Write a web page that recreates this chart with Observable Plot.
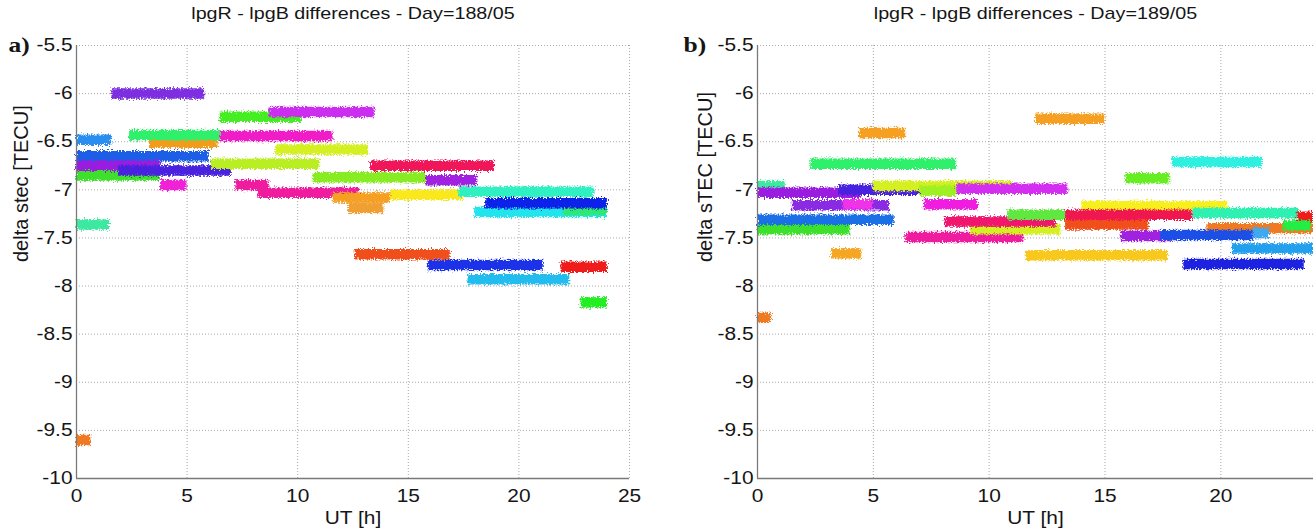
<!DOCTYPE html>
<html><head><meta charset="utf-8">
<script src="https://cdn.jsdelivr.net/npm/d3@7"></script>
<script src="https://cdn.jsdelivr.net/npm/@observablehq/plot@0.6"></script>
<style>
html,body{margin:0;padding:0;background:#fff;}
#wrap{position:relative;width:1313px;height:530px;overflow:hidden;background:#fff;}
#wrap svg{position:absolute;top:0;overflow:visible;}
</style></head><body><div id="wrap"></div>
<script>
// ---------- shared axis ticks ----------
const yTicks = [-10, -9.5, -9, -8.5, -8, -7.5, -7, -6.5, -6, -5.5];
const xTicksA = [0, 5, 10, 15, 20, 25];
const xTicksB = [0, 5, 10, 15, 20];

// ---------- panel a: Day 188/05 (one entry per satellite arc) ----------
const titleA = "lpgR - lpgB differences - Day=188/05";
const arcSatA   = ["a01","a02","a03","a04","a05","a06","a07","a08","a09","a10","a11","a12","a13","a14","a15","a16","a17","a18","a18","a20","a21","a22","a23","a24","a25","a26","a27","a28","a29","a30","a31","a32","a33"];
const arcStartA = [0, 0, 0, 0, 0, 0, 1.9, 3.8, 1.6, 3.3, 2.4, 6.5, 8.7, 6.5, 9.0, 6.1, 10.7, 7.2, 8.2, 13.3, 15.8, 11.6, 12.3, 14.2, 17.3, 18.0, 22.0, 18.5, 12.6, 15.9, 17.7, 21.9, 22.8];
const arcEndA   = [1.5, 0.65, 1.6, 3.8, 6.0, 3.8, 7.0, 5.0, 5.8, 6.4, 6.5, 10.2, 13.5, 11.6, 13.2, 11.0, 15.8, 8.7, 12.8, 18.9, 18.1, 14.2, 13.9, 17.5, 23.4, 24.0, 24.0, 24.0, 16.9, 21.1, 22.3, 24.0, 24.0];
const arcLevelA = [-7.36, -9.60, -6.48, -6.85, -6.65, -6.75, -6.80, -6.95, -6.00, -6.51, -6.43, -6.24, -6.19, -6.44, -6.58, -6.73, -6.87, -6.95, -7.03, -6.75, -6.90, -7.08, -7.19, -7.05, -7.02, -7.23, -7.21, -7.14, -7.67, -7.78, -7.93, -7.80, -8.17];
const satsA    = ["a01","a02","a03","a04","a05","a06","a07","a08","a09","a10","a11","a12","a13","a14","a15","a16","a17","a18","a20","a21","a22","a23","a24","a25","a26","a27","a28","a29","a30","a31","a32","a33"];
const paletteA = ["#3ee8a0","#f07a22","#2a8ef0","#3ee02a","#1f5fe6","#9a1fe0","#4a22e0","#f020d8","#7b2fe0","#f39c1e","#2ef06a","#44ee22","#cc2ef0","#f01ec8","#d4f020","#b8ee22","#88ec20","#f01ea0","#f0145a","#a020e0","#f5a020","#f0a030","#f8e81c","#2ef0c0","#22e4ec","#2ee870","#1020e8","#f0501c","#1a30e8","#22bcee","#f01c1c","#22ee22"];

// ---------- panel b: Day 189/05 ----------
const titleB = "lpgR - lpgB differences - Day=189/05";
const arcSatB   = ["b01","b02","b03","b04","b05","b06","b07","b08","b09","b10","b11","b12","b13","b14","b15","b16","b17","b18","b19","b20","b21","b22","b23","b24","b25","b26","b27","b28","b29","b30","b31","b32","b33","b34","b35"];
const arcStartB = [0, 3.2, 0, 0, 1.5, 3.7, 0, 0, 3.5, 5.0, 7.0, 8.6, 2.3, 4.4, 12.0, 7.2, 6.4, 9.2, 8.1, 10.8, 11.6, 14.0, 13.3, 13.3, 15.9, 17.9, 18.8, 19.4, 15.7, 17.4, 21.4, 20.5, 18.4, 23.3, 22.7];
const arcEndB   = [0.6, 4.5, 4.0, 5.9, 5.7, 5.0, 1.2, 4.5, 7.0, 11.0, 8.6, 13.4, 8.6, 6.4, 15.0, 9.5, 11.5, 13.1, 12.9, 13.3, 17.7, 20.3, 16.9, 18.8, 17.8, 21.8, 23.4, 24.0, 17.9, 21.4, 22.1, 24.0, 23.6, 24.0, 23.9];
const arcLevelB = [-8.33, -7.66, -7.41, -7.31, -7.16, -7.15, -6.96, -7.03, -7.00, -6.96, -7.01, -6.99, -6.73, -6.41, -6.26, -7.15, -7.49, -7.41, -7.33, -7.26, -7.68, -7.17, -7.36, -7.26, -6.88, -6.71, -7.24, -7.40, -7.48, -7.47, -7.45, -7.61, -7.77, -7.28, -7.37];
const satsB    = arcSatB;
const paletteB = ["#f07a22","#f5a623","#3ee02a","#1f6fe6","#8a2be2","#f030e8","#3ee8a0","#9a1fe0","#4a22e0","#d4f020","#9ef020","#d42ef0","#2ef06a","#f5a020","#f5a020","#f01ee0","#f01ea0","#d4f020","#f0146e","#5ee840","#f8c81c","#f8f01c","#f0501c","#f01450","#66ee22","#2ef0e0","#2ef0b0","#f07a22","#a020e0","#1f50e6","#40a8f0","#22a0ee","#1a20e0","#f01c1c","#22ee44"];

const SANS = "'Liberation Sans', Arial, Helvetica, sans-serif";
const SERIF = "'Liberation Serif', 'Times New Roman', serif";
const STRETCH = 1.16;
const NS = "http://www.w3.org/2000/svg";

function panel(o) {
  const data = o.start.map((s, i) => ({sat: o.sat[i], start: s, end: o.end[i], level: o.level[i]}));
  const svg = Plot.plot({
    width: 656, height: 530,
    marginLeft: o.ml, marginRight: o.mr, marginTop: 45, marginBottom: 52,
    x: {domain: o.xDomain},
    y: {domain: [-10, -5.5]},
    color: {type: "ordinal", domain: o.sats, range: o.palette},
    style: {fontFamily: SANS, fontSize: "17px", color: "#151515", background: "transparent", overflow: "visible"},
    marks: [
      Plot.gridX(o.xTicks, {stroke: "#a0a0a0", strokeOpacity: 0.9, strokeDasharray: "1,2"}),
      Plot.gridY(yTicks, {stroke: "#a0a0a0", strokeOpacity: 0.9, strokeDasharray: "1,2"}),
      Plot.ruleY(data, {y: "level", x1: "start", x2: "end", stroke: "sat", strokeWidth: 10.5}),
      Plot.ruleX([o.xDomain[0]], {stroke: "#7a7a7a", strokeWidth: 1.3}),
      Plot.ruleY([-10], {stroke: "#7a7a7a", strokeWidth: 1.3}),
      Plot.axisX({ticks: o.xTicks, tickSize: 0, tickPadding: 11, label: null, fontSize: 18, tickFormat: d => String(d)}),
      Plot.axisY({ticks: yTicks, tickSize: 0, tickPadding: 4, label: null, fontSize: 18, tickFormat: d => String(d)}),
      Plot.text([o.title], {text: d => d, frameAnchor: "top", dy: -32, lineAnchor: "middle", fontSize: 17}),
      Plot.text([o.tag], {text: d => d, frameAnchor: "top-left", dx: o.tagDx, dy: -1, lineAnchor: "middle", textAnchor: "start", fontFamily: SERIF, fontWeight: "bold", fontSize: 22}),
      Plot.text(["UT [h]"], {text: d => d, frameAnchor: "bottom", dy: 39.5, lineAnchor: "middle", fontSize: 18}),
      Plot.text([o.yLabel], {text: d => d, frameAnchor: "left", dx: o.yLabDx, rotate: -90, lineAnchor: "middle", fontSize: 20})
    ]
  });
  // horizontal stretch of the (non-rotated) texts, as in the reference image
  svg.querySelectorAll("text").forEach(t => {
    const tr = t.getAttribute("transform") || "";
    if (tr.includes("rotate")) return;
    t.setAttribute("transform", `${tr} scale(${STRETCH},1)`);
  });
  // scatter-like fuzzy edges for the arcs (pure rendering effect)
  const defs = document.createElementNS(NS, "defs");
  const filter = document.createElementNS(NS, "filter");
  filter.setAttribute("id", "fz" + o.id);
  filter.setAttribute("x", "-2%"); filter.setAttribute("y", "-5%");
  filter.setAttribute("width", "104%"); filter.setAttribute("height", "110%");
  const turb = document.createElementNS(NS, "feTurbulence");
  turb.setAttribute("type", "fractalNoise"); turb.setAttribute("baseFrequency", "0.7");
  turb.setAttribute("numOctaves", "2"); turb.setAttribute("seed", o.id === "a" ? "3" : "9");
  turb.setAttribute("result", "n");
  const disp = document.createElementNS(NS, "feDisplacementMap");
  disp.setAttribute("in", "SourceGraphic"); disp.setAttribute("in2", "n");
  disp.setAttribute("scale", "7"); disp.setAttribute("xChannelSelector", "R"); disp.setAttribute("yChannelSelector", "G");
  filter.appendChild(turb); filter.appendChild(disp); defs.appendChild(filter);
  svg.insertBefore(defs, svg.firstChild);
  svg.querySelectorAll("g").forEach(g => {
    if (g.getAttribute("stroke-width") === "10.5") g.setAttribute("filter", `url(#fz${o.id})`);
  });
  svg.style.left = o.left + "px";
  return svg;
}

const wrap = document.getElementById("wrap");
wrap.appendChild(panel({
  id: "a", left: 0, ml: 76, mr: 27, xDomain: [0, 25], xTicks: xTicksA,
  title: titleA, tag: "a)", tagDx: -68, yLabel: "delta stec [TECU]", yLabDx: -55,
  sat: arcSatA, start: arcStartA, end: arcEndA, level: arcLevelA, sats: satsA, palette: paletteA
}));
wrap.appendChild(panel({
  id: "b", left: 657, ml: 100, mr: 0, xDomain: [0, 24], xTicks: xTicksB,
  title: titleB, tag: "b)", tagDx: -74, yLabel: "delta sTEC [TECU]", yLabDx: -52,
  sat: arcSatB, start: arcStartB, end: arcEndB, level: arcLevelB, sats: satsB, palette: paletteB
}));
</script></body></html>
